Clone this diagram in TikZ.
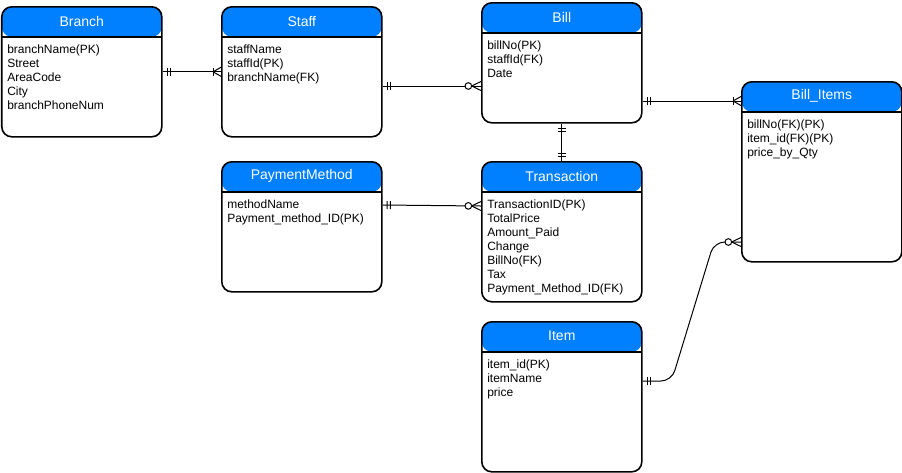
\documentclass[tikz,border=0pt]{standalone}
\usepackage{fontspec}
\setmainfont{Liberation Sans}
\usetikzlibrary{calc,decorations.markings}
\definecolor{headblue}{HTML}{007FFF}
\tikzset{
  entity/.style={draw=black,line width=1.2pt,rounded corners=7.5pt,fill=white,
    minimum width=120pt,inner sep=0pt,anchor=north west,
    path picture={\fill[headblue] (path picture bounding box.north west) rectangle ([yshift=-22.5pt]path picture bounding box.north east);
      \draw[line width=1.2pt] ([yshift=-22.5pt]path picture bounding box.north west) -- ([yshift=-22.5pt]path picture bounding box.north east);}},
  title/.style={text=white,font=\fontsize{10.5}{12}\selectfont,inner sep=0pt},
  attrs/.style={anchor=north west,align=left,inner sep=0pt,font=\fontsize{9}{10.5}\selectfont},
  conn/.style={draw=black,line width=0.75pt},
  one start/.style={postaction={decorate,decoration={markings,
    mark=at position 3.4pt with {\draw[line width=0.75pt] (0,-3pt) -- (0,3pt);},
    mark=at position 5.8pt with {\draw[line width=0.75pt] (0,-3pt) -- (0,3pt);}}}},
  one end/.style={postaction={decorate,decoration={markings,
    mark=at position -3.4pt with {\draw[line width=0.75pt] (0,-3pt) -- (0,3pt);},
    mark=at position -5.8pt with {\draw[line width=0.75pt] (0,-3pt) -- (0,3pt);}}}},
  many end/.style={postaction={decorate,decoration={markings,
    mark=at position -6pt with {\draw[line width=0.75pt] (0,-3pt) -- (0,3pt);
      \draw[line width=0.75pt] (0,0) -- (6pt,3.4pt); \draw[line width=0.75pt] (0,0) -- (6pt,-3.4pt);}}}},
  zero many end/.style={postaction={decorate,decoration={markings,
    mark=at position -9.5pt with {\draw[line width=0.75pt,fill=white] (0,0) circle (2.5pt);},
    mark=at position -7pt with {\draw[line width=0.75pt] (0,0) -- (7pt,3.4pt); \draw[line width=0.75pt] (0,0) -- (7pt,-3.4pt);}}}}
}
\begin{document}
\begin{tikzpicture}[x=0.75pt,y=-0.75pt]
\useasboundingbox (0,0) rectangle (902,472);
% the tables
\node[entity,minimum height=97.5pt] (branch) at (1,6) {};
\node[entity,minimum height=97.5pt] (staff) at (221,6) {};
\node[entity,minimum height=90pt] (bill) at (481,2) {};
\node[entity,minimum height=135pt] (billitems) at (741,81) {};
\node[entity,minimum height=97.5pt] (paymethod) at (221,161) {};
\node[entity,minimum height=105pt] (transaction) at (481,161) {};
\node[entity,minimum height=112.5pt] (item) at (481,321) {};
% the labels
\node[title] (branch-title) at ($(branch.north)+(0,15)$) {Branch};
\node[title] (staff-title) at ($(staff.north)+(0,15)$) {Staff};
\node[title] (bill-title) at ($(bill.north)+(0,15)$) {Bill};
\node[title] (billitems-title) at ($(billitems.north)+(0,15)$) {Bill\_Items};
\node[title] (paymethod-title) at ($(paymethod.north)+(0,15)$) {PaymentMethod};
\node[title] (transaction-title) at ($(transaction.north)+(0,15)$) {Transaction};
\node[title] (item-title) at ($(item.north)+(0,15)$) {Item};
\node[attrs] (branch-attrs) at ($(branch.north west)+(6,39)$) {branchName(PK)\\Street\\AreaCode\\City\\branchPhoneNum};
\node[attrs] (staff-attrs) at ($(staff.north west)+(6,39)$) {staffName\\staffId(PK)\\branchName(FK)};
\node[attrs] (bill-attrs) at ($(bill.north west)+(6,39)$) {billNo(PK)\\staffId(FK)\\Date};
\node[attrs] (billitems-attrs) at ($(billitems.north west)+(6,39)$) {billNo(FK)(PK)\\item\_id(FK)(PK)\\price\_by\_Qty};
\node[attrs] (paymethod-attrs) at ($(paymethod.north west)+(6,39)$) {methodName\\Payment\_method\_ID(PK)};
\node[attrs] (transaction-attrs) at ($(transaction.north west)+(6,39)$) {TransactionID(PK)\\TotalPrice\\Amount\_Paid\\Change\\BillNo(FK)\\Tax\\Payment\_Method\_ID(FK)};
\node[attrs] (item-attrs) at ($(item.north west)+(6,39)$) {item\_id(PK)\\itemName\\price};
% the relations
\draw[conn,one start,many end] (branch.east) -- (staff.west);
\draw[conn,one start,zero many end] ($(staff.north east)+(0,80)$) -- ($(bill.north west)+(0,84)$);
\draw[conn,one start,many end] ($(bill.north east)+(0,99)$) -- ($(billitems.north west)+(0,20)$);
\draw[conn,one start,one end] (bill.south) -- (transaction.north);
\draw[conn,one start,zero many end] ($(paymethod.north east)+(0,44)$) -- ($(transaction.north west)+(0,45)$);
\draw[conn,rounded corners=8pt,one start,zero many end] ($(item.north east)+(0,60)$) -- ++(29,0) -- ($(billitems.north west)+(-27,161)$) -- ($(billitems.north west)+(0,161)$);
\end{tikzpicture}
\end{document}
